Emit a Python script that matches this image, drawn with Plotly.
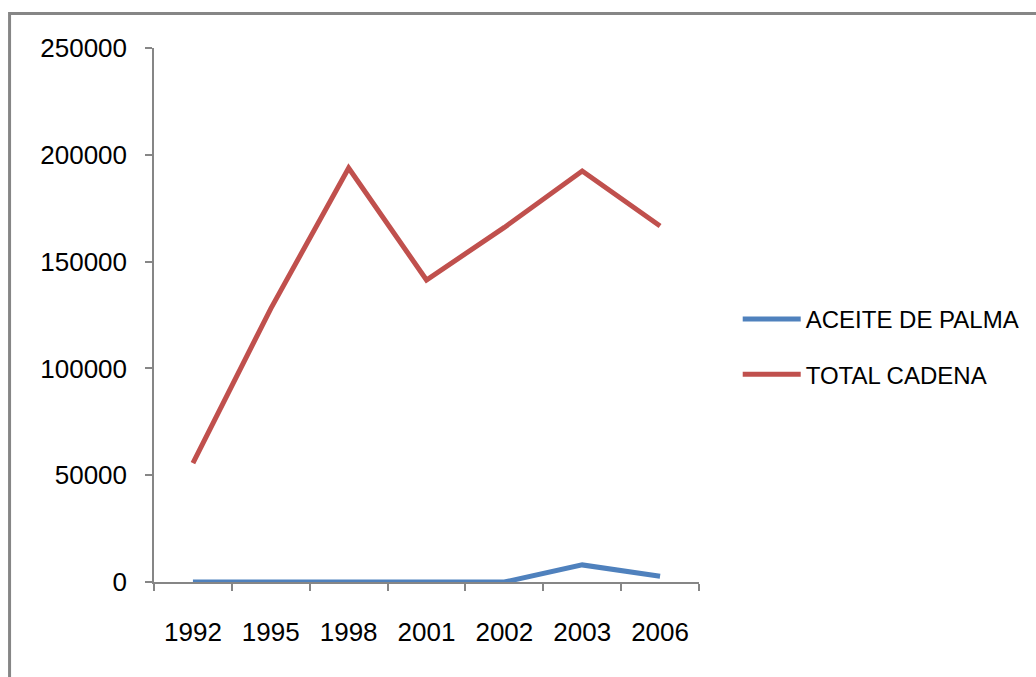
import plotly.graph_objects as go

# Años y series (toneladas)
years = ["1992", "1995", "1998", "2001", "2002", "2003", "2006"]
aceite_palma = [0, 0, 0, 0, 0, 8000, 2700]
total_cadena = [55700, 128000, 193800, 141400, 166000, 192400, 166700]
y_ticks = [0, 50000, 100000, 150000, 200000, 250000]

W, H = 1036, 677
L, R, T, B = 154, 333, 48, 95
pw, ph = W - L - R, H - T - B

def px_x(x):
    return (x - L) / pw

def px_y(y):
    return (H - B - y) / ph

axis_col = "#868686"
font_family = "Liberation Sans, Arial, sans-serif"

fig = go.Figure()
fig.add_trace(go.Scatter(
    x=years, y=aceite_palma, mode="lines", name="ACEITE DE PALMA",
    legendgroup="a", line=dict(color="#4F81BD", width=5),
))
fig.add_trace(go.Scatter(
    x=years, y=total_cadena, mode="lines", name="TOTAL CADENA",
    legendgroup="b", line=dict(color="#C0504D", width=5),
))

fig.update_layout(
    width=W, height=H,
    margin=dict(l=L, r=R, t=T, b=B),
    paper_bgcolor="white", plot_bgcolor="white",
    font=dict(family=font_family, color="#000000"),
    showlegend=True,
    legend=dict(
        x=px_x(742), y=px_y(297), xanchor="left", yanchor="top",
        font=dict(size=24, family=font_family),
        itemwidth=58, tracegroupgap=21, traceorder="grouped",
        bgcolor="rgba(0,0,0,0)",
    ),
    xaxis=dict(
        type="category", range=[-0.5, 6.5],
        showline=True, linecolor=axis_col, linewidth=1.5,
        ticks="outside", tickson="boundaries", ticklen=7,
        tickcolor=axis_col, tickwidth=1.5,
        showgrid=False, zeroline=False,
        tickfont=dict(size=26), ticklabelstandoff=26,
    ),
    yaxis=dict(
        range=[0, 250000], tickvals=y_ticks, tickformat="d",
        showline=True, linecolor=axis_col, linewidth=1.5,
        ticks="outside", ticklen=7, tickcolor=axis_col, tickwidth=1.5,
        showgrid=False, zeroline=False,
        tickfont=dict(size=26), ticklabelstandoff=13,
    ),
    shapes=[dict(
        type="rect", xref="paper", yref="paper",
        x0=px_x(8.5), x1=px_x(1045), y0=px_y(13.5), y1=px_y(690),
        line=dict(color=axis_col, width=3), layer="below",
    )],
)

fig.write_html("out.html")
